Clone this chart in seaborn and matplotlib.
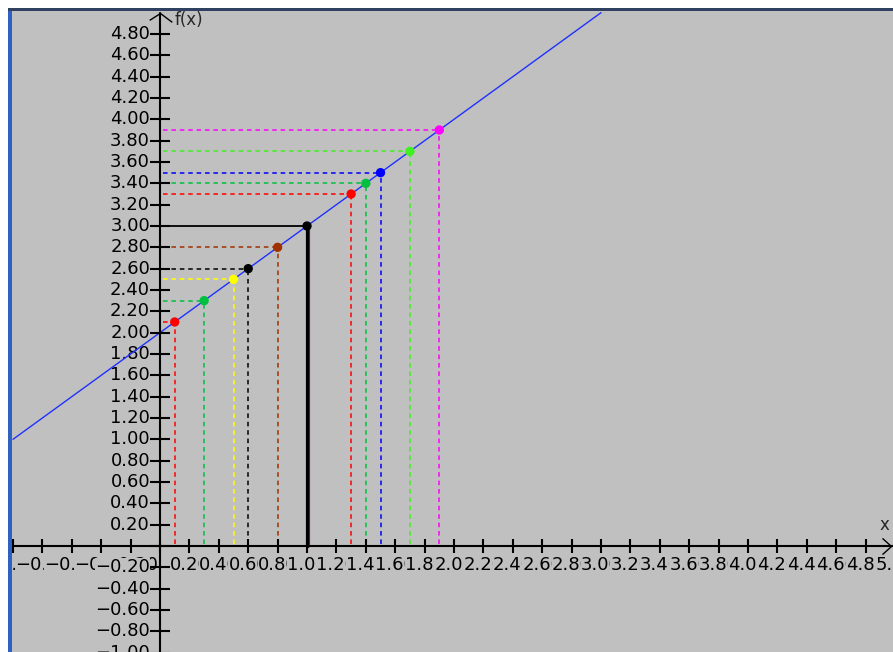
import numpy as np
import seaborn as sns
import matplotlib.pyplot as plt
from matplotlib.patches import Rectangle
from matplotlib.path import Path
from matplotlib.transforms import offset_copy

# f(x) = x + 2, drawn from its two end points
line_x = [-1.0, 3.0]
line_y = [1.0, 5.0]

# marked points on the line and their colours
pt_x = [0.1, 0.3, 0.5, 0.6, 0.8, 1.0, 1.3, 1.4, 1.5, 1.7, 1.9]
pt_y = [2.1, 2.3, 2.5, 2.6, 2.8, 3.0, 3.3, 3.4, 3.5, 3.7, 3.9]
pt_colors = ['#ff0000', '#00c040', '#ffff00', '#000000', '#a03000', '#000000',
             '#ff0000', '#00c040', '#0000ff', '#40f020', '#ff00ff']

# tick positions
x_ticks = np.round(np.arange(-1.0, 4.81, 0.2), 2)
x_label_vals = np.round(np.arange(-1.0, 5.01, 0.2), 2)
y_ticks = np.round(np.arange(-1.0, 4.81, 0.2), 2)

bg = '#c0c0c0'
sns.set_style('white', {'axes.facecolor': bg})
plt.rcParams['font.family'] = ['DejaVu Sans']

fig = plt.figure(figsize=(8.93, 6.52), dpi=100)
fig.patches.append(Rectangle((8 / 893, 0), 4 / 893, 643 / 652, transform=fig.transFigure,
                             facecolor='#3060c0', edgecolor='none'))
fig.patches.append(Rectangle((8 / 893, 641 / 652), 885 / 893, 3 / 652, transform=fig.transFigure,
                             facecolor='#304060', edgecolor='none'))
ax = fig.add_axes([12 / 893, 0, 881 / 893, 642 / 652])
ax.set_xlim(-1.0068, 4.986)
ax.set_ylim(-0.994, 5.025)
for s in ax.spines.values():
    s.set_visible(False)
ax.set_xticks([])
ax.set_yticks([])

# tick labels, each one painted over the one before it
tfont = dict(fontsize=13, color='black', clip_on=True,
             bbox=dict(boxstyle='square,pad=0', fc=bg, ec='none'))
xt = offset_copy(ax.transData, fig=fig, x=0, y=-10, units='dots')
for v in x_label_vals:
    if v == 0:
        continue
    ax.text(v, 0, f'{v:.2f}'.replace('-', '\u2212'), ha='center', va='top', transform=xt, **tfont)
yt = offset_copy(ax.transData, fig=fig, x=-10, y=0, units='dots')
for v in y_ticks:
    if v == 0:
        continue
    ax.text(0, v, f'{v:.2f}'.replace('-', '\u2212'), ha='right', va='center', transform=yt, **tfont)

# axes with open arrow heads
ax.plot([-1.0068, 4.986], [0, 0], color='black', lw=1.5, zorder=5)
ax.plot([0, 0], [-0.994, 4.995], color='black', lw=1.5, zorder=5)
up_head = Path([(-11, -7), (0, 0), (12, -9)], [Path.MOVETO, Path.LINETO, Path.LINETO])
right_head = Path([(-10, 9), (0, 0), (-10, -9)], [Path.MOVETO, Path.LINETO, Path.LINETO])
ax.plot([0], [4.995], marker=up_head, markersize=17, mew=1, mec='black', mfc='none',
        linestyle='none', zorder=5, clip_on=False)
ax.plot([4.97], [0], marker=right_head, markersize=13, mew=1, mec='black', mfc='none',
        linestyle='none', zorder=5, clip_on=False)
ax.text(0.1, 4.93, 'f(x)', fontsize=12, ha='left', va='center')
ax.text(4.93, 0.2, 'x', fontsize=12, ha='center', va='center')

ax.plot(x_ticks, np.zeros_like(x_ticks), linestyle='none', marker='|', markersize=10,
        mew=1.5, color='black', zorder=5)
ax.plot(np.zeros_like(y_ticks), y_ticks, linestyle='none', marker='_', markersize=15,
        mew=1.5, color='black', zorder=5)

# projections of each point onto the axes
for x, y, c in zip(pt_x, pt_y, pt_colors):
    if x == 1.0:
        ax.plot([0.01, x], [y, y], color='black', lw=1.3, zorder=3)
        ax.plot([x, x], [0, y], color='#800080', lw=3, zorder=3,
                transform=offset_copy(ax.transData, fig=fig, x=1, y=0, units='dots'))
        ax.plot([x, x], [0, y], color='black', lw=2.2, zorder=3,
                transform=offset_copy(ax.transData, fig=fig, x=-0.5, y=0, units='dots'))
    else:
        ax.plot([0.02, x], [y, y], color=c, lw=1.1, linestyle=(0, (3, 2.5)), zorder=3)
        ax.plot([x, x], [0.02, y], color=c, lw=1.1, linestyle=(0, (3, 2.5)), zorder=3)

sns.lineplot(x=line_x, y=line_y, ax=ax, color='#2030ff', lw=1, zorder=4)
sns.scatterplot(x=pt_x, y=pt_y, hue=[str(i) for i in range(len(pt_x))], palette=pt_colors,
                ax=ax, s=45, edgecolor='none', legend=False, zorder=6)

fig.savefig('out.png', dpi=100, facecolor='white')
